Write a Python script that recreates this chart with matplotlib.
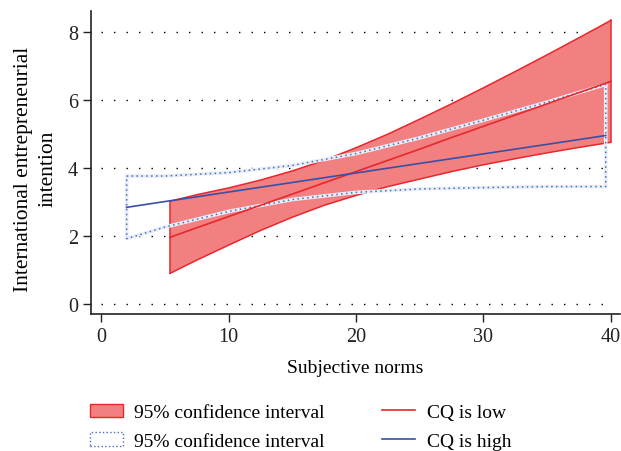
import matplotlib
matplotlib.use("Agg")
import matplotlib.pyplot as plt
from matplotlib.patches import Patch
from matplotlib.lines import Line2D

plt.rcParams['font.family'] = ['Liberation Serif', 'DejaVu Serif']
plt.rcParams['font.size'] = 14

# CQ is low: fitted line and 95% CI
low_x = [5.4, 7.5, 10, 12.5, 15, 17.5, 20, 22.5, 25, 27.5, 30, 32.5, 35, 37.5, 40]
low_fit = [1.96, 2.24, 2.57, 2.90, 3.23, 3.56, 3.89, 4.22, 4.55, 4.89, 5.22, 5.55, 5.88, 6.21, 6.54]
low_upper = [3.02, 3.21, 3.41, 3.64, 3.91, 4.22, 4.59, 4.99, 5.43, 5.88, 6.35, 6.83, 7.32, 7.82, 8.33]
low_lower = [0.90, 1.29, 1.73, 2.16, 2.55, 2.90, 3.19, 3.45, 3.67, 3.89, 4.09, 4.27, 4.44, 4.60, 4.75]

# CQ is high: fitted line and 95% CI
high_x = [2.0, 5, 10, 15, 20, 25, 30, 35, 39.6]
high_fit = [2.84, 3.01, 3.29, 3.57, 3.85, 4.13, 4.41, 4.69, 4.95]
high_upper = [3.76, 3.76, 3.86, 4.07, 4.42, 4.88, 5.40, 5.93, 6.45]
high_lower = [1.92, 2.26, 2.72, 3.07, 3.28, 3.38, 3.42, 3.45, 3.45]

x_ticks = [0, 10, 20, 30, 40]
y_ticks = [0, 2, 4, 6, 8]

red_fill = '#f28080'
red_line = '#e8272b'
blue_line = '#3a4fa6'
blue_dot = '#4a6cc0'

fig = plt.figure(figsize=(6.21, 4.52), dpi=100)
ax = fig.add_axes([0.1465, 0.3025, 0.8515, 0.6705])

# dotted horizontal grid
ax.hlines(y_ticks, x_ticks[0], x_ticks[-1], colors='black', linewidth=1.0,
          linestyles=(0, (1, 8)), zorder=0)

# red CI band
ax.fill_between(low_x, low_lower, low_upper, facecolor=red_fill, edgecolor='none', zorder=1)
ax.plot(low_x, low_upper, color=red_line, lw=1.1, zorder=2)
ax.plot(low_x, low_lower, color=red_line, lw=1.1, zorder=2)
ax.plot([low_x[0], low_x[0]], [low_lower[0], low_upper[0]], color=red_line, lw=1.1, zorder=2)
ax.plot([low_x[-1], low_x[-1]], [low_lower[-1], low_upper[-1]], color=red_line, lw=1.1, zorder=2)

# blue CI outline (dotted polygon)
poly_x = high_x + high_x[::-1] + [high_x[0]]
poly_y = high_upper + high_lower[::-1] + [high_upper[0]]
ax.plot(poly_x, poly_y, color='#e9eef6', lw=2.6, zorder=3)
ax.plot(poly_x, poly_y, color=blue_dot, lw=1.1, linestyle=(0, (1, 2.2)), zorder=4)

# fitted lines
ax.plot(low_x, low_fit, color=red_line, lw=1.2, zorder=5)
ax.plot(high_x, high_fit, color=blue_line, lw=1.2, zorder=6)

ax.set_xlim(-0.8, 40.7)
ax.set_ylim(-0.3, 8.6)
ax.set_xticks(x_ticks)
ax.set_yticks(y_ticks)
for s in ['top', 'right']:
    ax.spines[s].set_visible(False)
for s in ['left', 'bottom']:
    ax.spines[s].set_linewidth(1.2)
    ax.spines[s].set_color('#222222')
ax.tick_params(direction='out', length=6, width=1.0, colors='#222222', labelsize=14.5)

ax.set_xlabel('Subjective norms', fontsize=14, labelpad=9)
ax.set_ylabel('International entrepreneurial\nintention', fontsize=15.5, linespacing=1.4)
ax.yaxis.set_label_coords(-0.064, 0.482)

handles = [
    Patch(facecolor=red_fill, edgecolor=red_line, linewidth=1.0),
    Patch(facecolor='none', edgecolor=blue_dot, linewidth=1.0, linestyle=':'),
    Line2D([], [], color=red_line, lw=1.2),
    Line2D([], [], color=blue_line, lw=1.2),
]
labels = ['95% confidence interval', '95% confidence interval', 'CQ is low', 'CQ is high']
fig.legend(handles, labels, ncol=2, loc='upper left', bbox_to_anchor=(0.132, 0.122),
           frameon=False, fontsize=14, handlelength=1.7, handleheight=0.7,
           handletextpad=0.6, columnspacing=2.95, labelspacing=0.55,
           borderaxespad=0)

fig.savefig('out.png', dpi=100)
